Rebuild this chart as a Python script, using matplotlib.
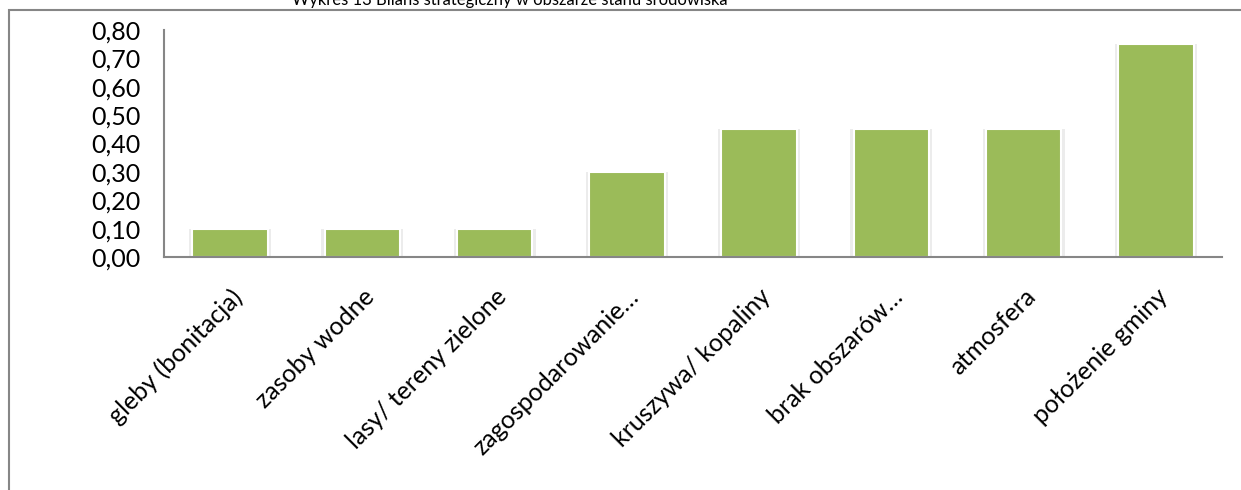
import matplotlib
matplotlib.use('Agg')
import matplotlib.pyplot as plt
from matplotlib.patches import Rectangle
from matplotlib.ticker import FuncFormatter

categories = ['gleby (bonitacja)', 'zasoby wodne', 'lasy/ tereny zielone',
              'zagospodarowanie…', 'kruszywa/ kopaliny', 'brak obszarów…',
              'atmosfera', 'położenie gminy']
values = [0.10, 0.10, 0.10, 0.30, 0.45, 0.45, 0.45, 0.75]
yticks = [0.0, 0.1, 0.2, 0.3, 0.4, 0.5, 0.6, 0.7, 0.8]

plt.rcParams['font.family'] = ['Lato', 'DejaVu Sans']

W, H = 1241, 490
fig = plt.figure(figsize=(W / 100, H / 100), dpi=100)

# outer chart border (top/left visible)
fig.patches.append(Rectangle((9 / W, -0.1), 1.2, (H - 10) / H + 0.1,
                             transform=fig.transFigure, fill=False,
                             edgecolor='#868686', linewidth=1.5))

# title, mostly cut off at the top edge
fig.text(510 / W, 1 - 5 / H, 'Wykres 13 Bilans strategiczny w obszarze stanu środowiska',
         ha='center', va='baseline', fontsize=12, color='black')

ax = fig.add_axes([164 / W, 1 - 257 / H, (1222 - 164) / W, (257 - 30) / H])
x = range(len(categories))
# soft shadow behind bars
ax.bar(x, values, width=0.62, color='#ececec', zorder=1)
ax.bar(x, values, width=0.57, color='#9bbb59', edgecolor='white', linewidth=1.5, zorder=2)

ax.set_xlim(-0.5, len(categories) - 0.5)
ax.set_ylim(0, 0.8)
ax.set_yticks(yticks)
ax.yaxis.set_major_formatter(FuncFormatter(lambda v, p: f'{v:.2f}'.replace('.', ',')))
ax.set_xticks(list(x))
ax.set_xticklabels(categories, rotation=45, ha='right', rotation_mode='anchor')
ax.tick_params(axis='both', length=0, labelsize=18)
ax.tick_params(axis='y', pad=17)
ax.tick_params(axis='x', pad=20)

for s in ['top', 'right']:
    ax.spines[s].set_visible(False)
for s in ['left', 'bottom']:
    ax.spines[s].set_color('#868686')
    ax.spines[s].set_linewidth(1.5)

fig.savefig('out.png', dpi=100)
